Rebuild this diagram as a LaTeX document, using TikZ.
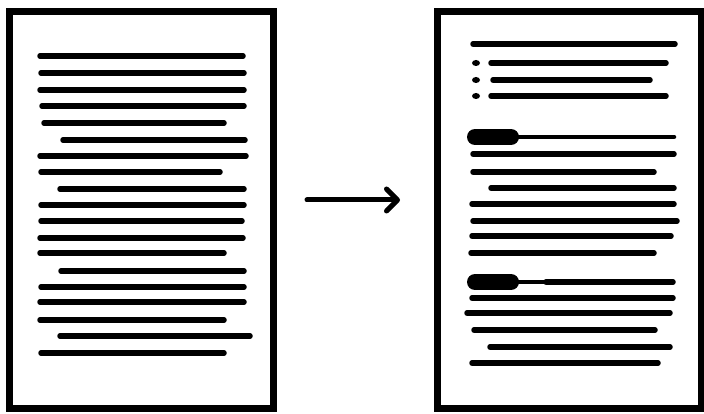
\documentclass[tikz,border=0pt]{standalone}
\usepackage{tikz}
\usetikzlibrary{arrows.meta}

\begin{document}
\begin{tikzpicture}[x=1pt, y=-1pt,
  sheet/.style={draw, line width=7pt, inner sep=0pt, minimum width=263.5pt, minimum height=396pt},
  stroke/.style={line width=5.5pt, line cap=round},
  hairstroke/.style={line width=4.5pt, line cap=round},
  heading/.style={line width=16pt, line cap=round},
  flow/.style={line width=5pt, line cap=round, -{Straight Barb[length=11pt, width=22pt, line cap=round, line join=round]}}]
\useasboundingbox (0,0) rectangle (704,414);
\node[sheet] (draftpage) at (141.25,210) {};
\node[sheet] (tidypage) at (569.5,210) {};
\coordinate (arrowtail) at (307,200);
\coordinate (arrowtip) at (400,200);
\draw[flow] (arrowtail) -- (arrowtip);
\foreach \y/\xa/\xb in {56/40/243, 73/41/244, 90/40/244, 106/42/244, 123/44/224, 140/63/245,
  156/40/246, 172/41/220, 189/60/244, 205/41/244, 221/41/242, 238/40/243, 253/40/224,
  271/61/244, 287/41/244, 302/40/244, 320/40/224, 336/60/250, 353/41/224} {
  \draw[stroke] (\xa,\y) -- (\xb,\y);
}
\foreach \y/\xa/\xb in {44/473/675, 154/473/674, 172/473/654, 188/491/674, 204/472/674,
  221/473/677, 236/472/671, 253/471/654, 298/472/673, 313/467/670, 330/474/655,
  347/490/670, 363/472/658} {
  \draw[stroke] (\xa,\y) -- (\xb,\y);
}
\foreach \y/\xa/\xb in {63/491/666, 80/493/650, 96/491/666} {
  \fill (476,\y) ellipse (4pt and 3pt);
  \draw[stroke] (\xa,\y) -- (\xb,\y);
}
\draw[hairstroke] (512,137) -- (674,137);
\draw[heading] (475,137) -- (511,137);
\draw[hairstroke] (512,282) -- (546,282);
\draw[stroke] (546,282) -- (673,282);
\draw[heading] (475,282) -- (511,282);
\end{tikzpicture}
\end{document}
